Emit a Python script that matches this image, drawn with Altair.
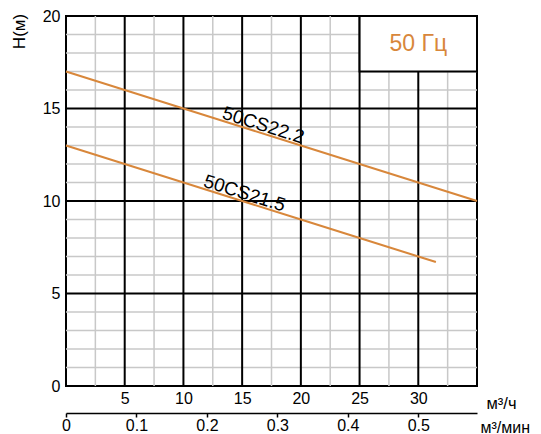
import altair as alt
import pandas as pd

# ---- data ----
flow_a = [0, 5, 10, 15, 20, 25, 30, 35]
head_a = [17, 16, 15, 14, 13, 12, 11, 10]
flow_b = [0, 5, 10, 15, 20, 25, 30, 31.5]
head_b = [13, 12, 11, 10, 9, 8, 7, 6.7]
model_names = ["50CS22.2", "50CS21.5"]
label_flow = [16.6, 15.0]
label_head = [13.68, 10.0]

x_major = [5, 10, 15, 20, 25, 30]
x_minor = [2.5, 7.5, 12.5, 17.5, 22.5, 27.5, 32.5]
y_major = [5, 10, 15]
y_minor = [1, 2, 3, 4, 6, 7, 8, 9, 11, 12, 13, 14, 16, 17, 18, 19]
y_ticks = [0, 5, 10, 15, 20]
min_ticks = [0, 6, 12, 18, 24, 30]  # m3/h positions of 0.0 .. 0.5 m3/min

box_x = [25]
box_x2 = [35]
box_y = [17]
box_y2 = [20]
freq_label = ["50 Гц"]

ORANGE = "#d8873b"
FONT = "Liberation Sans"

xs = alt.Scale(domain=[0, 35], nice=False, zero=False)
ys = alt.Scale(domain=[0, 20], nice=False, zero=False)

lines_df = pd.DataFrame({
    "q": flow_a + flow_b,
    "h": head_a + head_b,
    "m": [model_names[0]] * len(flow_a) + [model_names[1]] * len(flow_b),
})
labels_df = pd.DataFrame({"q": label_flow, "h": label_head, "m": model_names})

main_x_axis = alt.Axis(values=x_major, domain=False, ticks=False, grid=False, labelFlush=False,
                       labelFontSize=16, labelPadding=4, labelColor="black", labelFont=FONT,
                       title="м³/ч", titleX=420, titleY=17, titleAlign="left",
                       titleBaseline="middle", titleFontSize=16.5, titleFontWeight="normal",
                       titleFont=FONT, titleColor="black")
y_axis = alt.Axis(values=y_ticks, domain=False, ticks=False, grid=False, labelFlush=False,
                  labelFontSize=16, labelPadding=6, labelColor="black", labelFont=FONT,
                  title="H(м)", titleX=-47, titleY=15, titleAngle=-90, titleAlign="center",
                  titleBaseline="middle", titleFontSize=17, titleFontWeight="normal",
                  titleFont=FONT, titleColor="black")


def Y(field):
    return alt.Y(field, scale=ys, axis=y_axis)


minor_v = alt.Chart(pd.DataFrame({"q": x_minor})).mark_rule(color="#c8c8c8", strokeWidth=1.5).encode(
    x=alt.X("q:Q", scale=xs, axis=main_x_axis))
minor_h = alt.Chart(pd.DataFrame({"h": y_minor})).mark_rule(color="#c8c8c8", strokeWidth=1.5).encode(
    y=Y("h:Q"))
major_v = alt.Chart(pd.DataFrame({"q": x_major})).mark_rule(color="black", strokeWidth=2).encode(
    x=alt.X("q:Q", scale=xs, axis=None))
major_h = alt.Chart(pd.DataFrame({"h": y_major})).mark_rule(color="black", strokeWidth=2).encode(
    y=Y("h:Q"))

min_axis = alt.Axis(values=min_ticks, orient="bottom", offset=27, grid=False, labelFlush=False,
                    labelExpr="datum.value == 0 ? '0' : format(datum.value / 60, '.1f')",
                    domain=True, domainColor="black", domainWidth=1.5,
                    ticks=True, tickColor="black", tickWidth=1.5, tickSize=4,
                    labelFontSize=16, labelPadding=0, labelColor="black", labelFont=FONT,
                    title="м³/мин", titleX=414, titleY=14, titleAlign="left",
                    titleBaseline="middle", titleFontSize=16, titleFontWeight="normal",
                    titleFont=FONT, titleColor="black")
min_layer = alt.Chart(pd.DataFrame({"q": min_ticks})).mark_point(opacity=0).encode(
    x=alt.X("q:Q", scale=xs, axis=min_axis))

box_df = pd.DataFrame({"x": box_x, "x2": box_x2, "y": box_y, "y2": box_y2, "t": freq_label})
box = alt.Chart(box_df).mark_rect(fill="white", stroke="black", strokeWidth=2).encode(
    x=alt.X("x:Q", scale=xs, axis=None), x2="x2:Q",
    y=Y("y:Q"), y2="y2:Q")
box_text = alt.Chart(pd.DataFrame({"x": [30], "y": [18.5], "t": freq_label})).mark_text(
    color=ORANGE, fontSize=23, font=FONT, align="center", baseline="middle").encode(
    x=alt.X("x:Q", scale=xs, axis=None), y=Y("y:Q"), text="t:N")

curves = alt.Chart(lines_df).mark_line(color=ORANGE, strokeWidth=2).encode(
    x=alt.X("q:Q", scale=xs, axis=None),
    y=Y("h:Q"),
    detail="m:N")
curve_labels = alt.Chart(labels_df).mark_text(
    fontSize=19, font=FONT, color="black", angle=17.45, align="center",
    baseline="bottom", dy=2).encode(
    x=alt.X("q:Q", scale=xs, axis=None),
    y=Y("h:Q"),
    text="m:N")

chart = alt.layer(
    minor_v, minor_h, major_v, major_h, box, box_text, curves, curve_labels, min_layer
).resolve_axis(x="independent").properties(
    width=411, height=370,
    autosize=alt.AutoSizeParams(type="none"),
    padding={"left": 58, "top": 8, "right": 56, "bottom": 48},
).configure_view(stroke="black", strokeWidth=2)

chart.save("out.html", embed_options={"renderer": "svg", "actions": False})
